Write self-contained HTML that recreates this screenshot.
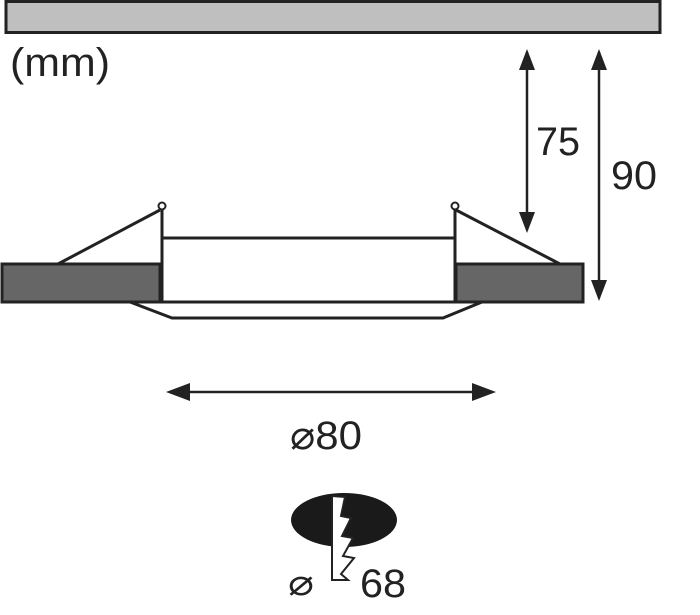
<!DOCTYPE html>
<html><head><meta charset="utf-8"><style>html,body{margin:0;padding:0;background:#fff;width:700px;height:615px;overflow:hidden}</style></head>
<body>
<svg width="700" height="615" viewBox="0 0 700 615" xmlns="http://www.w3.org/2000/svg" font-family="Liberation Sans, sans-serif" fill="#222">
<rect x="6" y="1.5" width="654" height="31" fill="#bfbfbf" stroke="#222" stroke-width="3"/>
<text x="10" y="76" font-size="40" textLength="100" lengthAdjust="spacingAndGlyphs">(mm)</text>
<line x1="527" y1="52" x2="527" y2="230" stroke="#222" stroke-width="2.5"/>
<path d="M519,70 L527,49 L535,70 z M519,212 L527,233 L535,212 z" fill="#222"/>
<line x1="599" y1="52" x2="599" y2="298" stroke="#222" stroke-width="2.5"/>
<path d="M591,70 L599,49 L607,70 z M591,280 L599,301 L607,280 z" fill="#222"/>
<text x="536" y="155" font-size="40" textLength="44" lengthAdjust="spacingAndGlyphs">75</text>
<text x="611" y="189" font-size="40" textLength="46" lengthAdjust="spacingAndGlyphs">90</text>
<g stroke="#222" stroke-width="3" fill="none">
<line x1="160" y1="210" x2="58" y2="264"/>
<line x1="456" y1="210" x2="560" y2="264"/>
<line x1="162" y1="210" x2="162" y2="302"/>
<line x1="455" y1="210" x2="455" y2="302"/>
<line x1="162" y1="238" x2="455" y2="238"/>
<line x1="2" y1="302" x2="584" y2="302"/>
<polyline points="130,302 172,318 443,318 482,302"/>
</g>
<rect x="2" y="264" width="158" height="38" fill="#666" stroke="#222" stroke-width="3"/>
<rect x="456" y="264" width="127" height="38" fill="#666" stroke="#222" stroke-width="3"/>
<circle cx="162" cy="206" r="3.5" fill="#fff" stroke="#222" stroke-width="2"/>
<circle cx="455" cy="206" r="3.5" fill="#fff" stroke="#222" stroke-width="2"/>
<line x1="172" y1="392" x2="490" y2="392" stroke="#222" stroke-width="2.5"/>
<path d="M166,392 L190,383 L190,401 z M496,392 L472,383 L472,401 z" fill="#222"/>
<text x="290" y="449" font-size="40" textLength="72" lengthAdjust="spacingAndGlyphs">⌀80</text>
<ellipse cx="344" cy="520" rx="53" ry="27" fill="#1a1a1a"/>
<path d="M332,496 L332,580 L348,580 L341,574 L354,558 L343,556 L353,538 L342,536 L351,518 L341,516 L345,497 Z" fill="#fff" stroke="#222" stroke-width="2"/>
<text x="288" y="595" font-size="36" textLength="26" lengthAdjust="spacingAndGlyphs">⌀</text>
<text x="360" y="597" font-size="40" textLength="46" lengthAdjust="spacingAndGlyphs">68</text>
</svg>
</body></html>
